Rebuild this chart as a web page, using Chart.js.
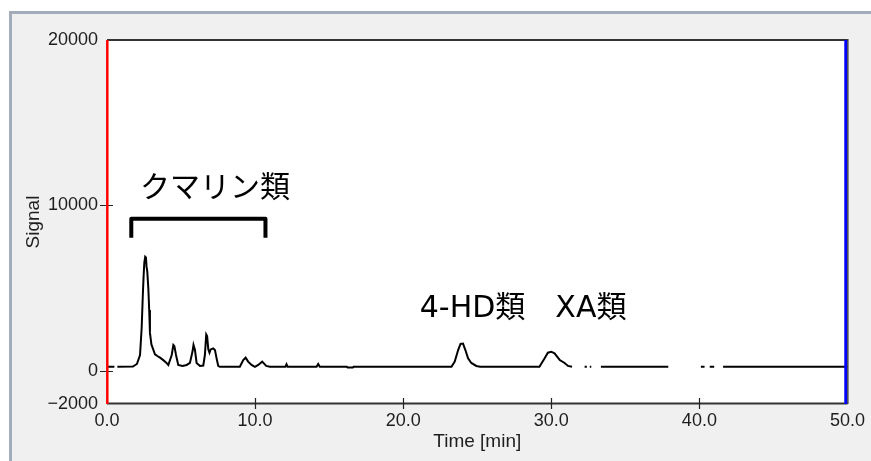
<!DOCTYPE html>
<html>
<head>
<meta charset="utf-8">
<script src="https://cdn.jsdelivr.net/npm/chart.js@4/dist/chart.umd.min.js"></script>
<style>
  html, body { margin: 0; padding: 0; background: #ffffff; }
  #wrap { position: absolute; left: 0; top: 0; width: 871px; height: 461px; overflow: hidden; }
  #panel { position: absolute; left: 9px; top: 11px; right: 0; bottom: 0; background: #f0f0f0;
           border-left: 3px solid #a2acba; border-top: 3px solid #a2acba; }
  canvas { position: absolute; left: 0; top: 0; }
</style>
</head>
<body>
<div id="wrap">
  <div id="panel"></div>
  <canvas id="chart" width="871" height="461"></canvas>
</div>
<script>
// Retention time (min) and detector signal of the chromatogram trace.
// null entries are breaks in the recorded trace.
const timeMin = [
  0.00, 0.50, 0.55, 0.70, 1.75, 2.02, 2.23, 2.34, 2.42, 2.47, 2.52, 2.58, 2.63, 2.67, 2.72, 2.79,
  2.85, 2.90, 3.00, 3.10, 3.24, 3.40, 3.58, 3.80, 4.00, 4.14, 4.37, 4.48, 4.55, 4.66, 4.81, 5.10,
  5.38, 5.60, 5.78, 5.84, 5.94, 6.05, 6.28, 6.50, 6.61, 6.70, 6.76, 6.84, 6.92, 7.00, 7.17, 7.29,
  7.40, 7.51, 7.62, 8.97, 9.20, 9.36, 9.53, 9.76, 9.99, 10.21, 10.48, 10.75, 11.00, 12.05, 12.12,
  12.20, 14.15, 14.26, 14.37, 16.20, 16.25, 16.60, 16.65, 23.26, 23.48, 23.71, 23.87, 24.04, 24.20,
  24.38, 24.60, 24.94, 25.20, 29.20, 29.55, 29.77, 30.00, 30.22, 30.57, 30.90, 31.13, 31.40, 31.45,
  32.25, 32.40, 32.45, 32.60, 32.70, 32.75, 33.35, 37.90, 37.95, 40.10, 40.35, 40.40, 40.70, 41.00,
  41.05, 41.60, 50.00
];
const signal = [
  250, 250, null, 250, 260, 420, 960, 2590, 4600, 5700, 6550, 6900, 6850, 6300, 6000, 5000,
  3680, 2300, 1600, 1350, 1000, 900, 800, 650, 500, 360, 960, 1570, 1500, 960, 360, 300,
  360, 480, 1200, 1570, 1260, 480, 300, 320, 960, 2200, 2100, 1300, 1100, 1300, 1360, 1260,
  760, 300, 250, 250, 660, 800, 560, 360, 250, 360, 560, 300, 250, 250, 400,
  250, 250, 420, 250, 250, 200, 200, 250, 250, 560, 1260, 1630, 1650, 1260,
  760, 480, 300, 250, 250, 760, 1100, 1160, 1060, 660, 480, 300, 250, null,
  250, 250, null, 250, 250, null, 250, 250, null, 250, 250, null, 250, 250,
  null, 250, 250
];

const xTickValues = [0, 10, 20, 30, 40, 50];
const xTickLabels = ['0.0', '10.0', '20.0', '30.0', '40.0', '50.0'];
const yTickValues = [-2000, 0, 10000, 20000];
const yTickLabels = ['\u22122000', '0', '10000', '20000'];
const xTitle = 'Time [min]';
const yTitle = 'Signal';
const coumarinLabel = 'クマリン類';
const chalconeLabel = '4-HD類\u3000XA類';

const TEXT = '#1e1e1e';

// White plot area behind the trace
const plotBackground = {
  id: 'plotBackground',
  beforeDraw(chart) {
    const { ctx, chartArea: a } = chart;
    ctx.save();
    ctx.fillStyle = '#ffffff';
    ctx.fillRect(a.left, a.top, a.right - a.left, a.bottom - a.top);
    ctx.restore();
  }
};

// Frame, start/end markers and crossing tick marks
const plotFrame = {
  id: 'plotFrame',
  afterDatasetsDraw(chart) {
    const { ctx, chartArea: a, scales: { x, y } } = chart;
    ctx.save();
    ctx.lineCap = 'butt';
    // top border and time axis
    ctx.strokeStyle = '#333333';
    ctx.lineWidth = 2;
    ctx.beginPath();
    ctx.moveTo(a.left, a.top); ctx.lineTo(a.right, a.top);
    ctx.moveTo(a.left, a.bottom - 0.5); ctx.lineTo(a.right, a.bottom - 0.5);
    ctx.stroke();
    // tick marks crossing the axes
    ctx.strokeStyle = '#222222';
    ctx.lineWidth = 1.2;
    ctx.beginPath();
    x.ticks.forEach(t => {
      if (t.value === x.min || t.value === x.max) return;
      const px = Math.round(x.getPixelForValue(t.value)) + 0.5;
      ctx.moveTo(px, a.bottom - 6); ctx.lineTo(px, a.bottom + 5);
    });
    y.ticks.forEach(t => {
      if (t.value === y.min || t.value === y.max) return;
      const py = Math.round(y.getPixelForValue(t.value)) + 0.5;
      ctx.moveTo(a.left - 7, py); ctx.lineTo(a.left + 6, py);
    });
    ctx.stroke();
    // start marker (red) and end marker (blue)
    const x0 = x.getPixelForValue(x.min);
    const x1 = x.getPixelForValue(x.max);
    ctx.strokeStyle = '#ff0000';
    ctx.lineWidth = 2.5;
    ctx.beginPath();
    ctx.moveTo(x0 + 0.3, a.top); ctx.lineTo(x0 + 0.3, a.bottom);
    ctx.stroke();
    ctx.strokeStyle = '#0000ff';
    ctx.lineWidth = 3;
    ctx.beginPath();
    ctx.moveTo(x1 - 1.7, a.top); ctx.lineTo(x1 - 1.7, a.bottom);
    ctx.stroke();
    ctx.strokeStyle = '#222222';
    ctx.lineWidth = 1.2;
    ctx.beginPath();
    ctx.moveTo(x1 + 0.4, a.top - 1); ctx.lineTo(x1 + 0.4, a.bottom);
    ctx.stroke();
    ctx.restore();
  }
};

// Peak group labels with the bracket over the coumarin region
const peakGroups = {
  id: 'peakGroups',
  afterDraw(chart) {
    const { ctx, scales: { x, y } } = chart;
    ctx.save();
    ctx.strokeStyle = '#000000';
    ctx.lineWidth = 4;
    ctx.lineJoin = 'round';
    ctx.lineCap = 'butt';
    const xl = x.getPixelForValue(1.64), xr = x.getPixelForValue(10.70);
    const yt = y.getPixelForValue(9200), yb = y.getPixelForValue(8050);
    ctx.beginPath();
    ctx.moveTo(xl, yb); ctx.lineTo(xl, yt); ctx.lineTo(xr, yt); ctx.lineTo(xr, yb);
    ctx.stroke();

    ctx.fillStyle = '#000000';
    ctx.textAlign = 'left';
    ctx.textBaseline = 'alphabetic';
    ctx.font = '30px "DejaVu Sans", "Noto Sans CJK JP", sans-serif';
    ctx.fillText(coumarinLabel, x.getPixelForValue(2.23), y.getPixelForValue(10510));
    ctx.fillText(chalconeLabel, x.getPixelForValue(21.12), y.getPixelForValue(3260));
    ctx.restore();
  }
};

Chart.defaults.font.family = '"Liberation Sans", Arial, sans-serif';

new Chart(document.getElementById('chart'), {
  type: 'line',
  data: {
    datasets: [{
      data: timeMin.map((t, i) => ({ x: t, y: signal[i] })),
      borderColor: '#000000',
      borderWidth: 2,
      pointRadius: 0,
      tension: 0,
      spanGaps: false,
      fill: false
    }]
  },
  options: {
    responsive: false,
    animation: false,
    devicePixelRatio: 1,
    layout: { padding: { top: 40, right: 23, bottom: 0, left: 0 } },
    plugins: { legend: { display: false }, tooltip: { enabled: false } },
    scales: {
      x: {
        type: 'linear',
        min: 0,
        max: 50,
        afterBuildTicks(scale) { scale.ticks = xTickValues.map(v => ({ value: v })); },
        afterFit(scale) { scale.height = 57; },
        grid: { display: false, drawTicks: false },
        border: { display: false },
        ticks: {
          padding: 6,
          color: TEXT,
          font: { size: 18 },
          autoSkip: false,
          maxRotation: 0,
          callback: v => xTickLabels[xTickValues.indexOf(v)]
        },
        title: { display: true, text: xTitle, color: TEXT, font: { size: 19 }, padding: { top: 0, bottom: 8 } }
      },
      y: {
        type: 'linear',
        min: -2000,
        max: 20000,
        afterBuildTicks(scale) { scale.ticks = yTickValues.map(v => ({ value: v })); },
        afterFit(scale) { scale.width = 107; },
        grid: { display: false, drawTicks: false },
        border: { display: false },
        ticks: {
          padding: 9,
          color: TEXT,
          font: { size: 18 },
          autoSkip: false,
          callback: v => yTickLabels[yTickValues.indexOf(v)]
        },
        title: { display: true, text: yTitle, color: TEXT, font: { size: 19 }, padding: { top: 22, bottom: 0 } }
      }
    }
  },
  plugins: [plotBackground, plotFrame, peakGroups]
});
</script>
</body>
</html>
